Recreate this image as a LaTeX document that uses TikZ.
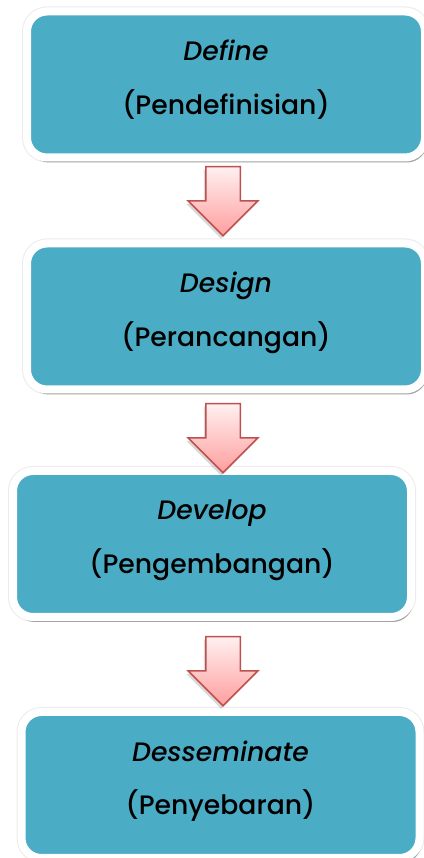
\documentclass[tikz,border=0pt]{standalone}
\usepackage{fontspec}
\setmainfont{Poppins}[UprightFont=* Medium, ItalicFont=* Medium Italic]
\usetikzlibrary{shapes.arrows,shadows}
\newdimen\pxu \pxu=0.75pt
\definecolor{boxteal}{HTML}{4BACC6}
\definecolor{arrowred}{HTML}{C0504D}
\tikzset{
  stage/.style={draw=white, line width=8\pxu, fill=boxteal, rounded corners=20\pxu,
    minimum width=398\pxu, minimum height=146\pxu, align=center, text depth=11pt,
    font=\fontsize{20}{40}\selectfont,
    preaction={draw=black!8, line width=10\pxu},
    drop shadow={shadow xshift=2\pxu, shadow yshift=-5\pxu, opacity=.45, fill=black!70}},
  downarrow/.style={single arrow, shape border rotate=270, draw=arrowred, line width=1.5\pxu,
    top color=red!6, bottom color=red!38, minimum height=69\pxu, anchor=tail,
    single arrow head extend=17.5\pxu, single arrow head indent=0pt, inner sep=16.5\pxu,
    drop shadow={shadow xshift=-2\pxu, shadow yshift=-3\pxu, opacity=.25, fill=black!60}}
}
\begin{document}
\begin{tikzpicture}[x=\pxu, y=\pxu]
                \useasboundingbox (0,0) rectangle (424,858);
                % the four stages
                \node[stage] (define) at (226,773.5) {\textit{Define}\\(Pendefinisian)};
                \node[stage] (design) at (226,541.5) {\textit{Design}\\(Perancangan)};
                \node[stage] (develop) at (212,314) {\textit{Develop}\\(Pengembangan)};
                \node[stage] (disseminate) at (220.5,73) {\textit{Desseminate}\\(Penyebaran)};
                % block arrows between them
                \node[downarrow] (a1) at (223,692) {};
                \node[downarrow] (a2) at (223,455) {};
                \node[downarrow] (a3) at (223,222) {};
\end{tikzpicture}
\end{document}
